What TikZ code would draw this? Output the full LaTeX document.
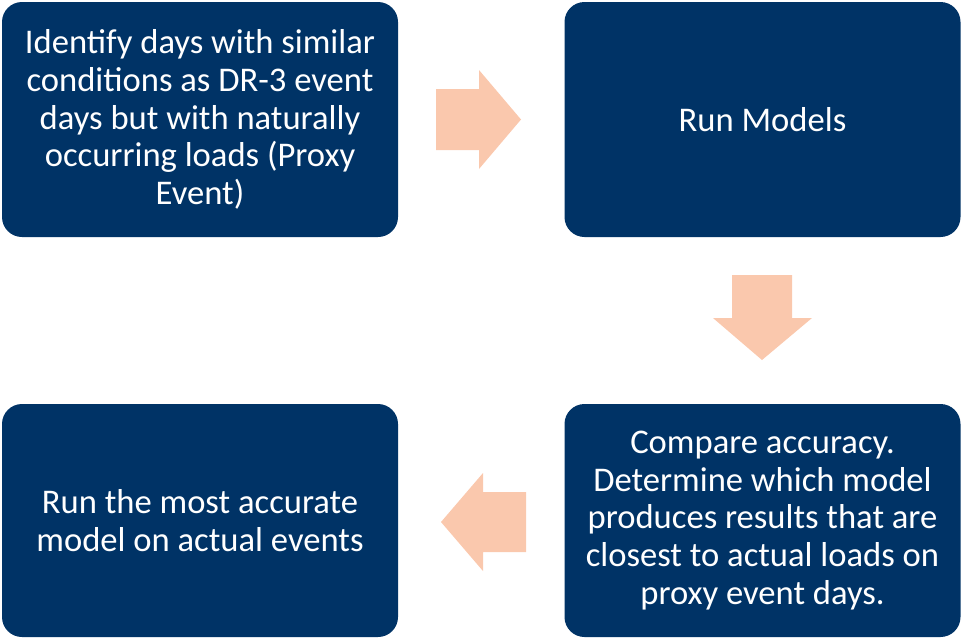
\documentclass[tikz,border=0pt]{standalone}
\usepackage{fontspec}
\setmainfont{Carlito}
\usepackage{xcolor}
\definecolor{boxblue}{RGB}{0,51,102}
\definecolor{arrowpeach}{RGB}{250,200,173}

\begin{document}
\begin{tikzpicture}
    	[x=1pt, y=-1pt,
    	 stepbox/.style={rectangle, rounded corners=20pt, fill=boxblue, text=white,
    	   minimum width=396pt, minimum height=235pt, align=center,
    	   font=\fontsize{34.6}{37.6}\selectfont, inner sep=0pt},
    	 blockarrow/.style={fill=arrowpeach}]
    	\useasboundingbox (0,0) rectangle (961,638);

    	\node (identify) at (200,119.5) [stepbox] {Identify days with similar\\conditions as DR-3 event\\days but with naturally\\occurring loads (Proxy\\Event)};
    	\node (runmodels) at (762.5,119.5) [stepbox] {Run Models};
    	\node (compare) at (762.5,520.5) [stepbox, minimum height=233pt] {Compare accuracy.\\Determine which model\\produces results that are\\closest to actual loads on\\proxy event days.};
    	\node (runbest) at (200,520.5) [stepbox, minimum height=233pt] {Run the most accurate\\model on actual events};

    	% right, down and left arrows between the steps
    	\fill[blockarrow] (436,89) -- (479,89) -- (479,70) -- (521,119.5) -- (479,169)
    	    -- (479,150) -- (436,150) -- cycle;
    	\fill[blockarrow] (732,275) -- (792,275) -- (792,318) -- (812,318) -- (762,360)
    	    -- (713,318) -- (732,318) -- cycle;
    	\fill[blockarrow] (526,492) -- (483,492) -- (483,473) -- (441,522) -- (483,571)
    	    -- (483,552) -- (526,552) -- cycle;
\end{tikzpicture}
\end{document}
